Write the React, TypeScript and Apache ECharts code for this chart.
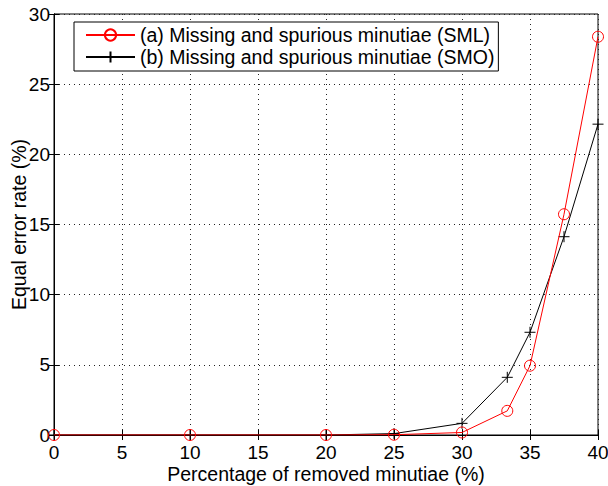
import React, { useEffect, useRef } from "react";
import * as echarts from "echarts";

// Percentage of removed minutiae (x) and equal error rate (y)
const removedPct = [0, 10, 20, 25, 30, 33.33, 35, 37.5, 40];
const eerSML = [0, 0, 0, 0.02, 0.18, 1.72, 4.94, 15.73, 28.38];
const eerSMO = [0, 0, 0, 0.1, 0.83, 4.11, 7.32, 14.13, 22.15];
const seriesNames = [
  "(a) Missing and spurious minutiae (SML)",
  "(b) Missing and spurious minutiae (SMO)",
];

const FONT = "'Liberation Sans', Arial, sans-serif";
const plusSymbol = "path://M0,5L10,5M5,0L5,10";

export default function App() {
  const ref = useRef<HTMLDivElement>(null);

  useEffect(() => {
    if (!ref.current) return;
    const chart = echarts.init(ref.current, null, { renderer: "svg" });
    const tickStyle = { inside: true, length: 5, lineStyle: { color: "#000", width: 1 } };
    const gridDots = { show: true, lineStyle: { type: [1, 4], color: "#222", width: 1 } };
    chart.setOption({
      animation: false,
      backgroundColor: "#fff",
      textStyle: { fontFamily: FONT },
      grid: {
        left: 54,
        right: 10,
        top: 14,
        bottom: 51,
        outerBoundsMode: "none",
        containLabel: false,
        show: true,
        borderColor: "#000",
        borderWidth: 1,
        backgroundColor: "transparent",
      },
      legend: {
        data: seriesNames,
        orient: "vertical",
        left: 74,
        top: 22,
        padding: [3, 4, 4, 11],
        itemGap: 2,
        itemWidth: 49,
        itemHeight: 14,
        borderColor: "#000",
        borderWidth: 1,
        backgroundColor: "#fff",
        textStyle: { fontFamily: FONT, fontSize: 19.5, color: "#000" },
      },
      xAxis: [
        {
          type: "value",
          min: 0,
          max: 40,
          interval: 5,
          name: "Percentage of removed minutiae (%)",
          nameLocation: "middle",
          nameGap: 29,
          nameMoveOverlap: false,
          nameTextStyle: { fontFamily: FONT, fontSize: 19.5, color: "#000" },
          axisLine: { lineStyle: { color: "#000" } },
          axisTick: tickStyle,
          axisLabel: { fontFamily: FONT, fontSize: 19, color: "#000", margin: 8 },
          splitLine: gridDots,
        },
        {
          type: "value",
          position: "top",
          min: 0,
          max: 40,
          interval: 5,
          axisLine: { lineStyle: { color: "#000" } },
          axisTick: tickStyle,
          axisLabel: { show: false },
          splitLine: { show: false },
        },
      ],
      yAxis: [
        {
          type: "value",
          min: 0,
          max: 30,
          interval: 5,
          name: "Equal error rate (%)",
          nameLocation: "middle",
          nameGap: 25,
          nameMoveOverlap: false,
          nameTextStyle: { fontFamily: FONT, fontSize: 19.5, color: "#000" },
          axisLine: { lineStyle: { color: "#000" } },
          axisTick: tickStyle,
          axisLabel: { fontFamily: FONT, fontSize: 19, color: "#000", margin: 4 },
          splitLine: gridDots,
        },
        {
          type: "value",
          position: "right",
          min: 0,
          max: 30,
          interval: 5,
          axisLine: { lineStyle: { color: "#000" } },
          axisTick: tickStyle,
          axisLabel: { show: false },
          splitLine: { show: false },
        },
      ],
      series: [
        {
          name: seriesNames[0],
          type: "line",
          z: 3,
          data: removedPct.map((x, i) => [x, eerSML[i]]),
          symbol: "circle",
          symbolSize: 11,
          showAllSymbol: true,
          lineStyle: { color: "#ff0000", width: 1 },
          itemStyle: { color: "rgba(255,255,255,0)", borderColor: "#ff0000", borderWidth: 1 },
        },
        {
          name: seriesNames[1],
          type: "line",
          z: 2,
          data: removedPct.map((x, i) => [x, eerSMO[i]]),
          symbol: plusSymbol,
          symbolSize: 11,
          showAllSymbol: true,
          lineStyle: { color: "#000", width: 1 },
          itemStyle: { color: "rgba(0,0,0,0)", borderColor: "#000", borderWidth: 1 },
        },
      ],
    });
    return () => chart.dispose();
  }, []);

  return (
    <div
      ref={ref}
      style={{ position: "fixed", left: 0, top: 0, width: 608, height: 486 }}
    />
  );
}
